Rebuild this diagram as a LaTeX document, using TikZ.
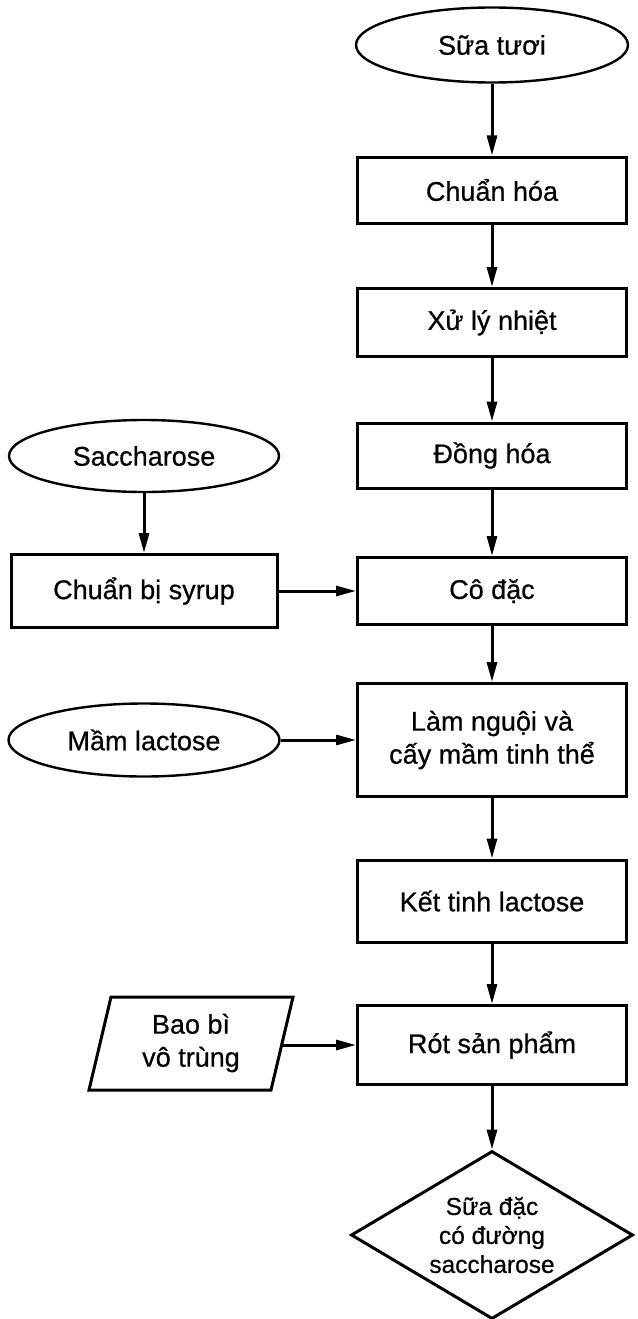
\documentclass[tikz,border=0pt]{standalone}
\usepackage{fontspec}
\setmainfont{Liberation Sans}[FakeBold=0.6]
\usetikzlibrary{shapes.geometric,arrows.meta}
\begin{document}
\begin{tikzpicture}[x=1pt,y=-1pt,
  every node/.style={font=\fontsize{27}{33}\selectfont},
  box/.style={draw, line width=3pt, minimum width=269pt, inner sep=0pt, align=center},
  oval/.style={draw, ellipse, line width=2.4pt, inner sep=0pt},
  arr/.style={line width=3pt, -{Triangle[length=20pt,width=10pt]}}]
\useasboundingbox (0,0) rectangle (637,1319);
% right column
\node[oval, minimum width=272pt, minimum height=75pt] (sua) at (492,45) {Sữa tươi};
\node[box, minimum height=66pt] (chuan) at (492,190) {Chuẩn hóa};
\node[box, minimum height=68pt] (xuly) at (492,322.5) {Xử lý nhiệt};
\node[box, minimum height=65pt] (dong) at (492,455.5) {Đồng hóa};
\node[box, minimum height=67pt] (codac) at (492,591) {Cô đặc};
\node[box, minimum height=113pt] (lam) at (492,740) {Làm nguội và\\cấy mầm tinh thể};
\node[box, minimum height=82pt] (ket) at (492,901) {Kết tinh lactose};
\node[box, minimum height=79pt] (rot) at (492,1045) {Rót sản phẩm};
\node[diamond, draw, line width=3pt, minimum width=282pt, minimum height=168pt, inner sep=0pt] (diam) at (492,1235) {};
\node[align=center, font=\fontsize{24.5}{29}\selectfont] (diamtext) at (diam.center) {Sữa đặc\\có đường\\saccharose};
% left column
\node[oval, minimum width=270pt, minimum height=72pt] (sacc) at (144,456) {Saccharose};
\node[box, minimum width=266pt, minimum height=73pt] (syrup) at (144,591) {Chuẩn bị syrup};
\node[oval, minimum width=271pt, minimum height=73pt] (mam) at (144,740) {Mầm lactose};
\draw[line width=3pt, line join=miter] (89,1090) -- (111,997) -- (293,997) -- (271,1090) -- cycle;
\node[align=center] (bao) at (191,1043) {Bao bì\\vô trùng};
\coordinate (baoR) at (282,1045);
% connectors
\draw[arr] (sua) -- (chuan);
\draw[arr] (chuan) -- (xuly);
\draw[arr] (xuly) -- (dong);
\draw[arr] (dong) -- (codac);
\draw[arr] (codac) -- (lam);
\draw[arr] (lam) -- (ket);
\draw[arr] (ket) -- (rot);
\draw[arr] (rot) -- (diam);
\draw[arr] (sacc) -- (syrup);
\draw[arr] (syrup) -- (codac);
\draw[arr] (mam) -- (lam);
\draw[arr] (baoR) -- (rot);
\end{tikzpicture}
\end{document}
